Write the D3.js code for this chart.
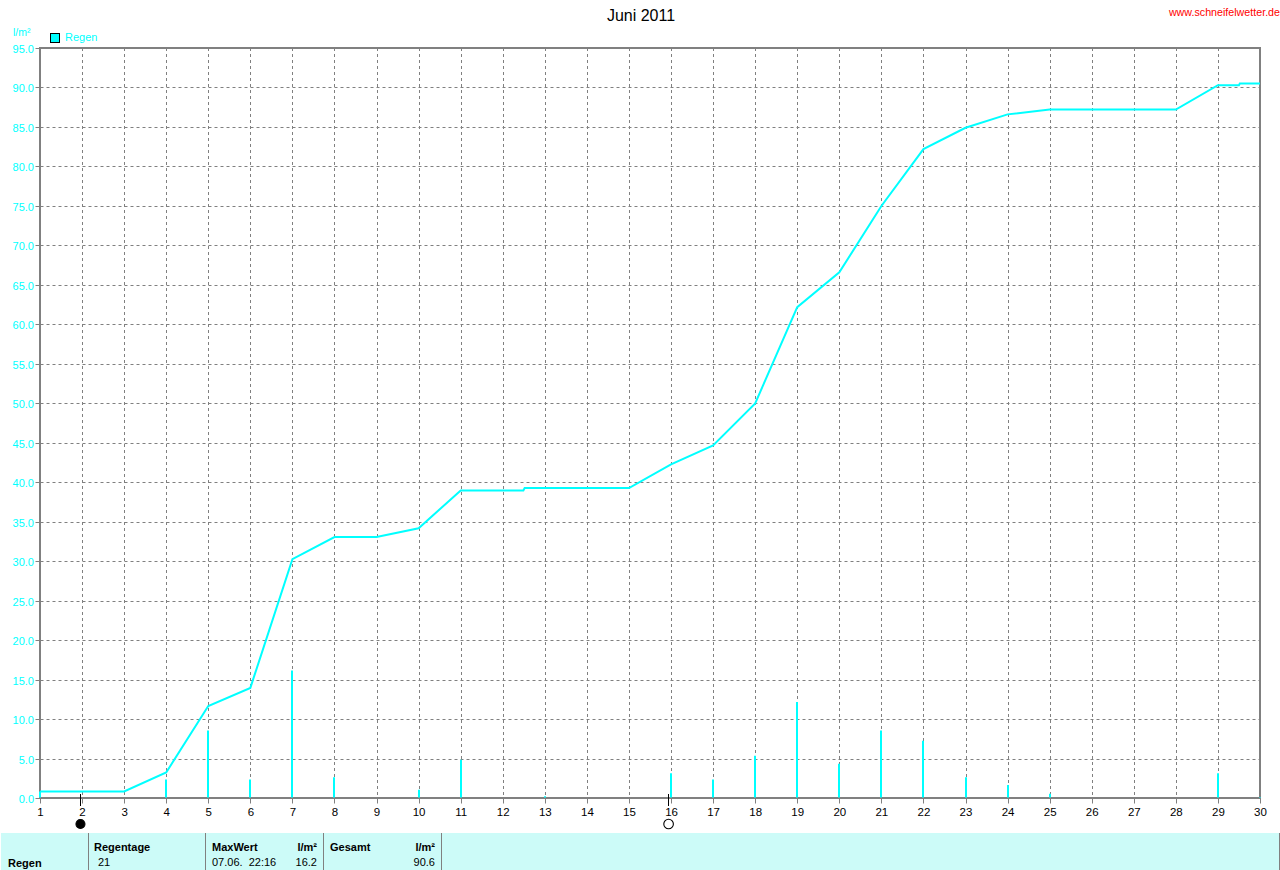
<!DOCTYPE html>
<html><head><meta charset="utf-8">
<script src="https://cdn.jsdelivr.net/npm/d3@7"></script>
<style>html,body{margin:0;padding:0;background:#fff}svg{display:block;font-family:"Liberation Sans",Arial,sans-serif}</style>
</head><body><svg id="c" width="1280" height="870"></svg>
<script>
const title = "Juni 2011";
const site = "www.schneifelwetter.de";
const unit = "l/m²";
const seriesName = "Regen";
const days = d3.range(1, 31);
const yTicks = d3.range(0, 95.01, 5);
const cumDays = [1,2,3,4,5,6,7,8,9,10,11,12,12.49,12.52,13,14,15,16,17,18,19,20,21,22,23,24,25,26,27,28,29,29.5,29.52,30];
const cumRain = [0.9,0.9,0.9,3.3,11.7,14.0,30.3,33.1,33.1,34.2,39.0,39.0,39.0,39.3,39.3,39.3,39.3,42.3,44.7,50.0,62.2,66.6,75.0,82.2,84.9,86.6,87.2,87.2,87.2,87.2,90.3,90.3,90.5,90.5];
const barDays = [1,4,5,6,7,8,10,11,13,16,17,18,19,20,21,22,23,24,25,29,30];
const barRain = [0.9,2.4,8.6,2.4,16.2,2.7,1.1,4.9,0.3,3.2,2.4,5.4,12.2,4.4,8.6,7.3,2.7,1.7,0.6,3.2,0.2];
const moonDays = [1.95,15.93];
const moonFill = ["#000","none"];
const statHeaders = ["Regentage","MaxWert","l/m²","Gesamt","l/m²"];
const statValues = ["21","07.06.  22:16","16.2","90.6"];
const dividerX = [88,205,323,441,1279];

const svg = d3.select("#c");
const x = d3.scaleLinear().domain([1,30]).range([40.5,1260.5]);
const y = d3.scaleLinear().domain([0,95]).range([798.5,48]);
const px = v => Math.floor(v)+0.5;
const cyan="#00ffff", gray="#808080";

function txt(a,b,s,o={}){return svg.append("text").attr("x",a).attr("y",b).text(s)
 .attr("font-size",o.size||11).attr("fill",o.fill||"#000").attr("text-anchor",o.anchor||"start")
 .attr("font-weight",o.weight||"normal").attr("xml:space","preserve").style("white-space","pre");}

// grid
svg.append("g").selectAll("line").data(days.slice(1,-1)).join("line")
 .attr("x1",d=>px(x(d))).attr("x2",d=>px(x(d))).attr("y1",y(95)).attr("y2",y(0))
 .attr("stroke",gray).attr("stroke-dasharray","3 3");
svg.append("g").selectAll("line").data(yTicks.slice(1,-1)).join("line")
 .attr("x1",x(1)).attr("x2",x(30)).attr("y1",d=>px(y(d))).attr("y2",d=>px(y(d)))
 .attr("stroke",gray).attr("stroke-dasharray","3 3");

// ticks
svg.append("g").selectAll("line").data(days).join("line")
 .attr("x1",d=>px(x(d))).attr("x2",d=>px(x(d))).attr("y1",y(0)).attr("y2",y(0)+5).attr("stroke",gray);
svg.append("g").selectAll("line").data(yTicks).join("line")
 .attr("x1",x(1)-5).attr("x2",x(1)).attr("y1",d=>px(y(d))).attr("y2",d=>px(y(d))).attr("stroke",gray);

// frame
svg.append("rect").attr("x",x(1)-0.5).attr("y",y(95)).attr("width",x(30)-x(1)).attr("height",y(0)-y(95)-0.5)
 .attr("fill","none").attr("stroke",gray).attr("stroke-width",2);

// bars
svg.append("g").selectAll("line").data(barDays).join("line")
 .attr("x1",d=>Math.floor(x(d))).attr("x2",d=>Math.floor(x(d)))
 .attr("y1",y(0)-1).attr("y2",(d,i)=>y(barRain[i]))
 .attr("stroke",cyan).attr("stroke-width",2);

// cumulative line
svg.append("path").datum(cumDays.map((d,i)=>[d,cumRain[i]]))
 .attr("d",d3.line().x(d=>x(d[0])-0.5).y(d=>y(d[1])))
 .attr("fill","none").attr("stroke",cyan).attr("stroke-width",2);

// labels
yTicks.forEach(v=>txt(34,px(y(v))+4,v.toFixed(1),{fill:cyan,anchor:"end",size:11}));
days.forEach(d=>txt(x(d),816,d,{anchor:"middle",size:11.5}));
txt(13,36,unit,{fill:cyan,size:10.5});
svg.append("rect").attr("x",50.5).attr("y",33.5).attr("width",9).attr("height",9)
 .attr("fill",cyan).attr("stroke","#000");
txt(65,41,seriesName,{fill:cyan,size:11});
txt(641,21,title,{anchor:"middle",size:16});
txt(1280,16,site,{fill:"#f00",anchor:"end",size:10.7});

// moon phases
moonDays.forEach((d,i)=>{
  svg.append("line").attr("x1",px(x(d))).attr("x2",px(x(d))).attr("y1",794).attr("y2",806).attr("stroke","#000");
  svg.append("circle").attr("cx",x(d)).attr("cy",824).attr("r",i?4.8:4.5)
    .attr("fill",moonFill[i]).attr("stroke","#000").attr("stroke-width",1.1);
});

// stats table
svg.append("rect").attr("x",1).attr("y",833).attr("width",1279).attr("height",37).attr("fill","#ccfbf8");
svg.append("g").selectAll("line").data(dividerX).join("line")
 .attr("x1",d=>d+0.5).attr("x2",d=>d+0.5).attr("y1",833).attr("y2",870).attr("stroke",gray);
const bold={weight:"bold",size:11};
txt(8,867,seriesName,bold);
txt(94,851,statHeaders[0],bold);
txt(212,851,statHeaders[1],bold);
txt(317,851,statHeaders[2],{...bold,anchor:"end"});
txt(330,851,statHeaders[3],bold);
txt(435,851,statHeaders[4],{...bold,anchor:"end"});
txt(98,866,statValues[0]);
txt(212,866,statValues[1]);
txt(317,866,statValues[2],{anchor:"end"});
txt(435,866,statValues[3],{anchor:"end"});
</script></body></html>
